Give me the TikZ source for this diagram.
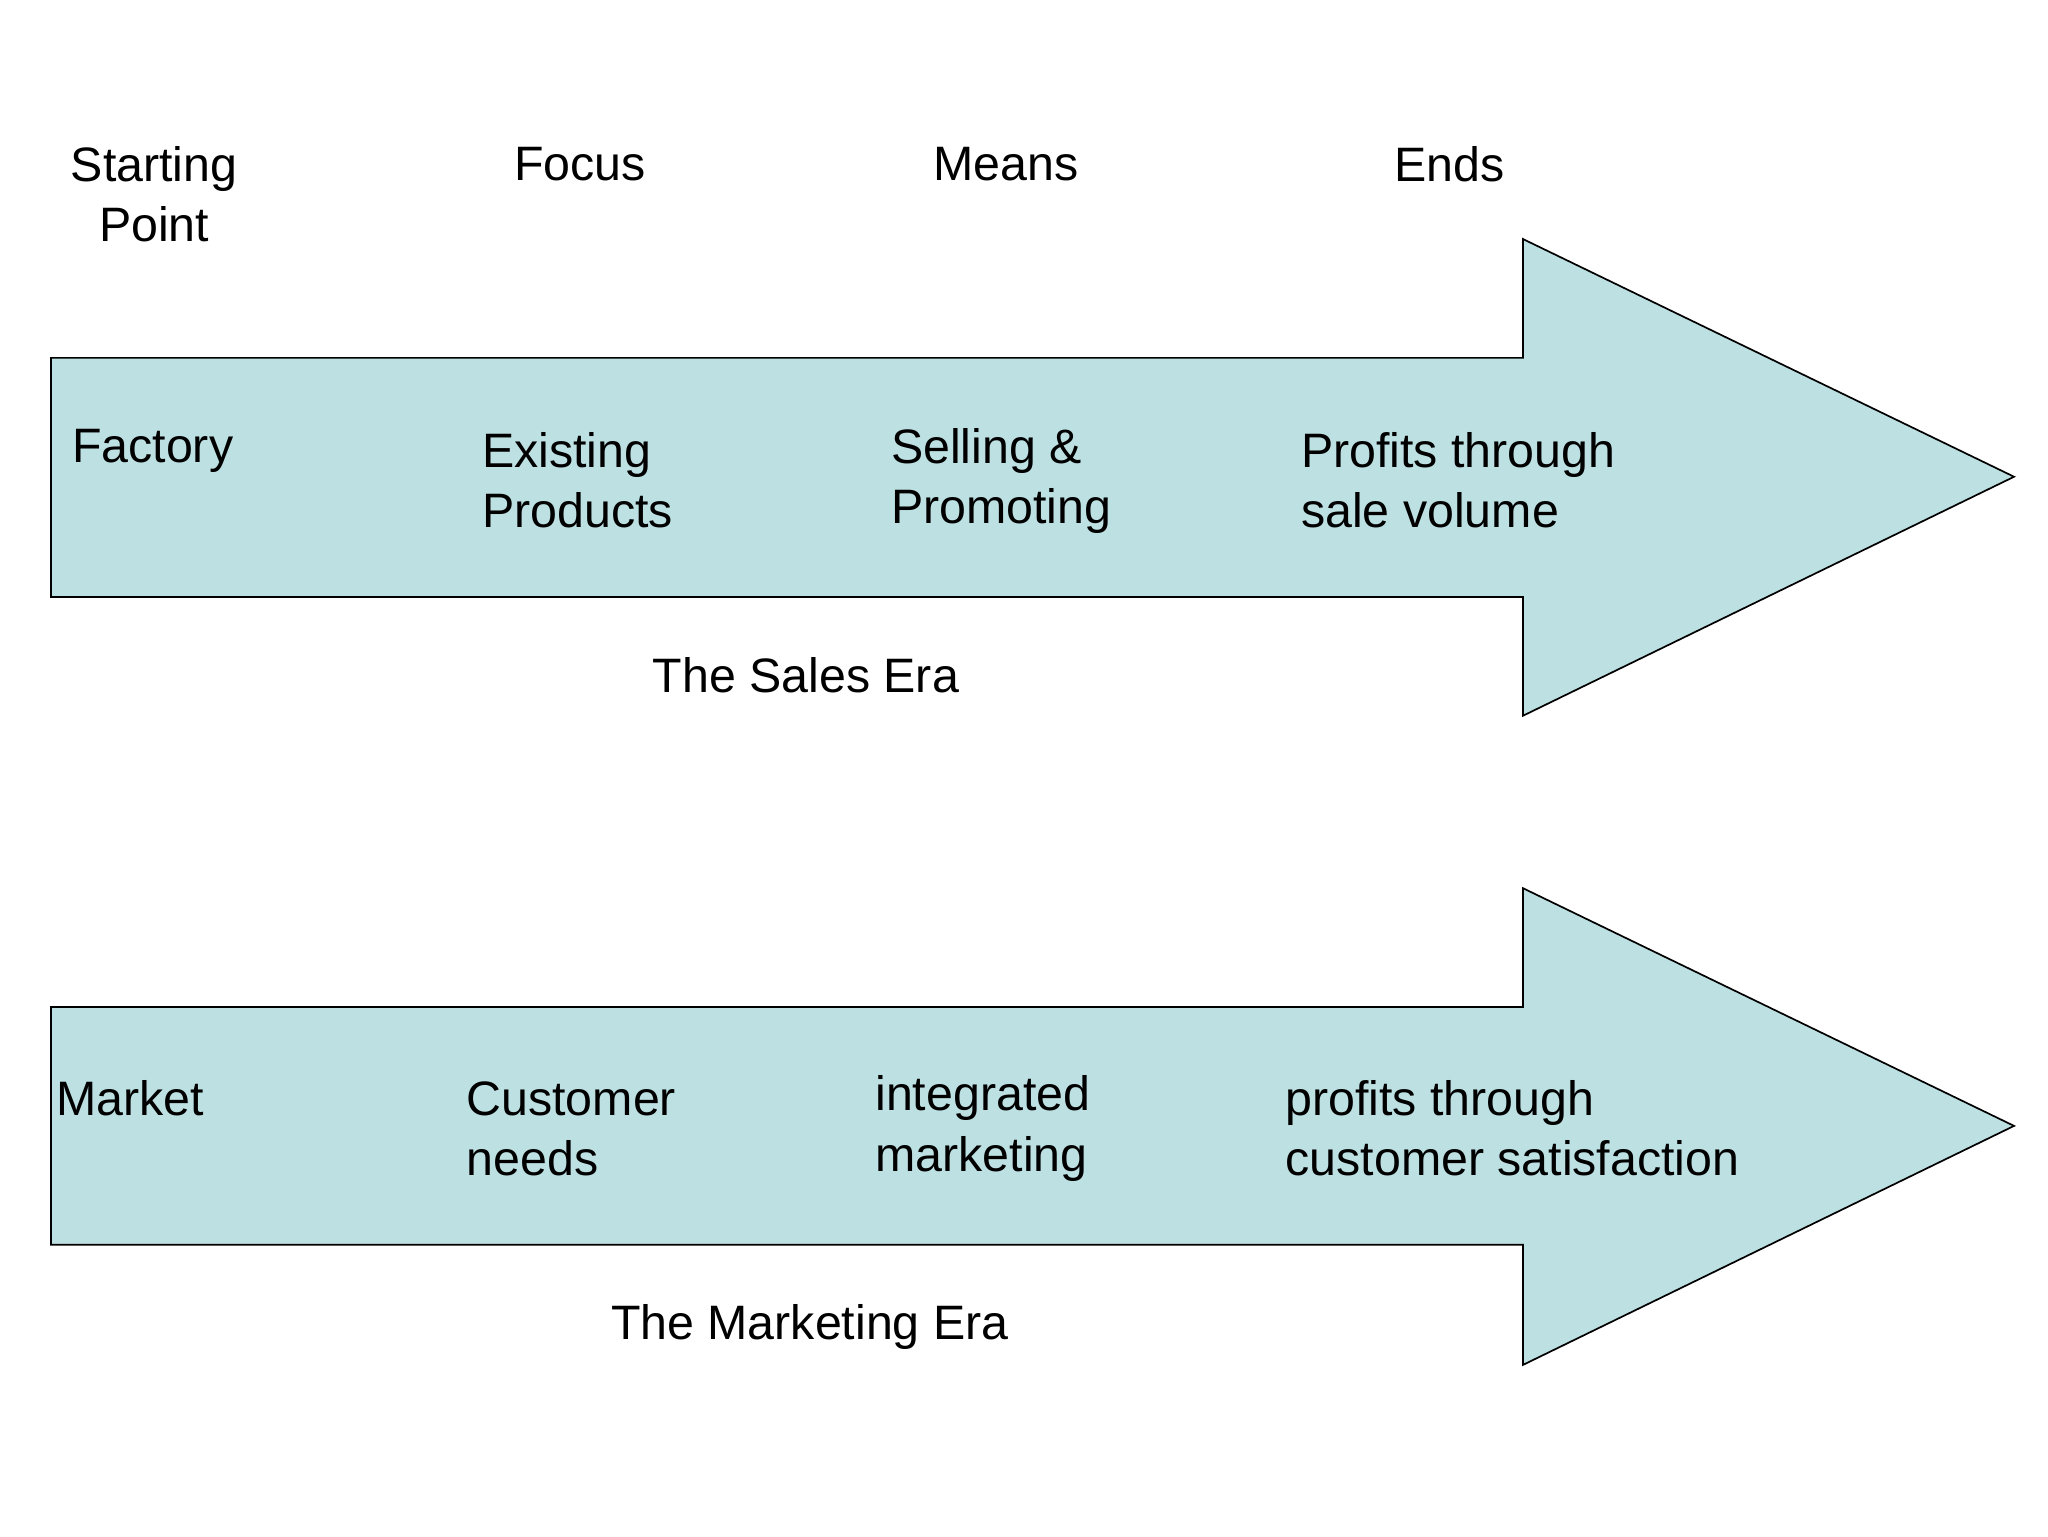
\documentclass[tikz,border=0pt]{standalone}
\usepackage{fontspec}
\setmainfont{Liberation Sans}
\definecolor{arr}{HTML}{BDE0E2}
\begin{document}
\begin{tikzpicture}[x=1pt,y=-1pt,
  arrow/.style={fill=arr,draw=black,line width=1.3pt},
  txt/.style={font=\fontsize{37}{46}\selectfont,align=left,inner sep=0pt,anchor=west},
  hd/.style={font=\fontsize{37}{46}\selectfont,align=center,inner sep=0pt}]
\useasboundingbox (0,0) rectangle (1568,1176);
\draw[arrow] (39,274) -- (1166,274) -- (1166,183) -- (1542,365) -- (1166,548) -- (1166,457) -- (39,457) -- cycle;
\draw[arrow] (39,771) -- (1166,771) -- (1166,680) -- (1542,862) -- (1166,1045) -- (1166,953) -- (39,953) -- cycle;
\node[hd] (h1) at (118,149) {Starting\\Point};
\node[hd] (h2) at (444,126) {Focus};
\node[hd] (h3) at (770,126) {Means};
\node[hd] (h4) at (1110,126) {Ends};
\node[txt] (a1) at (55,345) {Factory};
\node[txt] (a2) at (369,368) {Existing\\Products};
\node[txt] (a3) at (682,368) {Selling \&\\Promoting};
\node[txt] (a4) at (996,368) {Profits through\\sale volume};
\node[hd] (e1) at (617,517) {The Sales Era};
\node[txt] (b1) at (43,841) {Market};
\node[txt] (b2) at (357,864) {Customer\\needs};
\node[txt] (b3) at (670,864) {integrated\\marketing};
\node[txt] (b4) at (984,864) {profits through\\customer satisfaction};
\node[hd] (e2) at (620,1016) {The Marketing Era};
\end{tikzpicture}
\end{document}
